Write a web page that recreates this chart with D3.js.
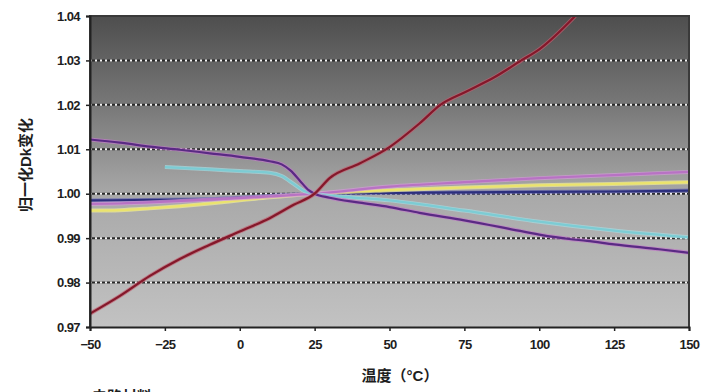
<!DOCTYPE html>
<html>
<head>
<meta charset="utf-8">
<title>Dk vs temperature</title>
<style>
  body { margin: 0; background: #fff; }
  text { font-family: "Liberation Sans", Arial, "Noto Sans CJK SC", sans-serif; }
</style>
</head>
<body>
<div id="chart"></div>
<script src="https://d3js.org/d3.v7.min.js"></script>
<script>
// temperature (°C) / normalized Dk readings
var redT   = [-50, -40, -30, -20, -10, 0, 10, 18, 25, 30, 40, 50, 60, 67, 75, 85, 94, 100, 112];
var redDk  = [0.973, 0.977, 0.9815, 0.9853, 0.9885, 0.9915, 0.9945, 0.9975, 1.000, 1.0035, 1.0068, 1.0105, 1.0158, 1.020, 1.0228, 1.0262, 1.030, 1.0325, 1.040];

var purpleT  = [-50, -40, -30, -20, -10, 0, 10, 14, 17, 20, 23, 25, 30, 40, 50, 60, 75, 90, 100, 110, 116, 125, 140, 150];
var purpleDk = [1.0122, 1.0115, 1.0106, 1.0099, 1.0091, 1.0083, 1.0073, 1.0066, 1.0052, 1.0030, 1.0008, 1.000, 0.9991, 0.9980, 0.9970, 0.9957, 0.9940, 0.9921, 0.9908, 0.9898, 0.9894, 0.9886, 0.9875, 0.9867];

var cyanT  = [-25, -10, 0, 10, 14, 18, 21, 25, 35, 50, 75, 100, 125, 150];
var cyanDk = [1.0060, 1.0055, 1.0051, 1.0047, 1.0040, 1.0022, 1.0008, 1.000, 0.9993, 0.9985, 0.9962, 0.9937, 0.9917, 0.9902];

var blueT  = [-50, -30, -10, 0, 10, 25, 50, 75, 100, 125, 150];
var blueDk = [0.9985, 0.9986, 0.9988, 0.9991, 0.9995, 1.000, 1.0002, 1.0003, 1.0004, 1.0005, 1.0007];

var pinkT  = [-50, -40, -25, 0, 10, 25, 50, 75, 100, 125, 150];
var pinkDk = [0.9977, 0.9978, 0.9982, 0.9990, 0.9994, 1.000, 1.0016, 1.0026, 1.0035, 1.0042, 1.0049];

var yellowT  = [-50, -40, -30, -20, -10, 0, 10, 25, 50, 75, 100, 125, 150];
var yellowDk = [0.9962, 0.9963, 0.9967, 0.9972, 0.9978, 0.9985, 0.9992, 1.000, 1.0008, 1.0014, 1.0019, 1.0022, 1.0026];

var xTicks = [-50, -25, 0, 25, 50, 75, 100, 125, 150];
var yTicks = [0.97, 0.98, 0.99, 1.00, 1.01, 1.02, 1.03, 1.04];

var series = [
  { t: blueT,   v: blueDk,   color: "#2c2f7e", halo: "#6a6ab0" },
  { t: yellowT, v: yellowDk, color: "#ebe46c", halo: "#f2ee9a" },
  { t: pinkT,   v: pinkDk,   color: "#b872c4", halo: "#d39ad8" },
  { t: cyanT,   v: cyanDk,   color: "#7cccd4", halo: "#a6dde2" },
  { t: purpleT, v: purpleDk, color: "#5a2a84", halo: "#c07ac8" },
  { t: redT,    v: redDk,    color: "#84182a", halo: "#c06070" }
];

var width = 723, height = 392;
var margin = { left: 90, right: 34, top: 16, bottom: 65 };

var svg = d3.select("#chart").append("svg")
    .attr("width", width).attr("height", height);

var x = d3.scaleLinear().domain([-50, 150]).range([margin.left, width - margin.right]);
var y = d3.scaleLinear().domain([0.97, 1.04]).range([height - margin.bottom, margin.top]);

// plot area gradient
var grad = svg.append("defs").append("linearGradient")
    .attr("id", "bg").attr("x1", 0).attr("y1", 0).attr("x2", 0).attr("y2", 1);
grad.append("stop").attr("offset", "0%").attr("stop-color", "#4e4e4e");
grad.append("stop").attr("offset", "30%").attr("stop-color", "#7a7a7a");
grad.append("stop").attr("offset", "58%").attr("stop-color", "#a9a9a9");
grad.append("stop").attr("offset", "100%").attr("stop-color", "#c2c2c2");

svg.append("rect")
    .attr("x", x(-50)).attr("y", y(1.04))
    .attr("width", x(150) - x(-50)).attr("height", y(0.97) - y(1.04))
    .attr("fill", "url(#bg)");

// dotted gridlines
var grid = svg.append("g");
yTicks.slice(1, -1).forEach(function(v) {
  grid.append("line")
      .attr("x1", x(-50)).attr("x2", x(150)).attr("y1", y(v)).attr("y2", y(v))
      .attr("stroke", "#2a2a2a").attr("stroke-width", 2);
  grid.append("line")
      .attr("x1", x(-50)).attr("x2", x(150)).attr("y1", y(v)).attr("y2", y(v))
      .attr("stroke", "#f4f4f4").attr("stroke-width", 2)
      .attr("stroke-dasharray", "2,3");
});

var line = d3.line()
    .x(function(d) { return x(d[0]); })
    .y(function(d) { return y(d[1]); })
    .curve(d3.curveMonotoneX);

svg.append("clipPath").attr("id", "clip").append("rect")
    .attr("x", x(-50)).attr("y", y(1.04))
    .attr("width", x(150) - x(-50)).attr("height", y(0.97) - y(1.04));

var lines = svg.append("g").attr("clip-path", "url(#clip)");
series.forEach(function(s) {
  var pts = s.t.map(function(t, i) { return [t, s.v[i]]; });
  lines.append("path").datum(pts)
      .attr("d", line).attr("fill", "none")
      .attr("stroke", s.halo).attr("stroke-width", 4).attr("stroke-opacity", 0.7);
  lines.append("path").datum(pts)
      .attr("d", line).attr("fill", "none")
      .attr("stroke", s.color).attr("stroke-width", 2.2);
});

// frame
svg.append("path")
    .attr("d", "M" + x(-50) + "," + y(0.97) + "V" + y(1.04) + "H" + x(150) + "V" + y(0.97))
    .attr("fill", "none").attr("stroke", "#3a3a3a").attr("stroke-width", 2);

var xAxis = svg.append("g")
    .attr("transform", "translate(0," + y(0.97) + ")")
    .call(d3.axisBottom(x).tickValues(xTicks).tickSize(4).tickPadding(9).tickFormat(d3.format("d")));
var yAxis = svg.append("g")
    .attr("transform", "translate(" + x(-50) + ",0)")
    .call(d3.axisLeft(y).tickValues(yTicks).tickSize(4).tickPadding(6).tickFormat(d3.format(".2f")));

[xAxis, yAxis].forEach(function(a) {
  a.select(".domain").attr("stroke", "#222").attr("stroke-width", 2);
  a.selectAll(".tick line").attr("stroke", "#222").attr("stroke-width", 1.5);
  a.selectAll(".tick text")
      .attr("fill", "#1e1e1e").style("font-size", "13px").style("font-weight", "bold")
      .style("letter-spacing", "-0.6px");
});

svg.append("text")
    .attr("transform", "translate(31,165) rotate(-90)")
    .attr("text-anchor", "middle")
    .attr("fill", "#1e1e1e").style("font-size", "15px").style("font-weight", "bold")
    .text("归一化Dk变化");

svg.append("text")
    .attr("x", 400).attr("y", 381)
    .attr("text-anchor", "middle")
    .attr("fill", "#1e1e1e").style("font-size", "15px").style("font-weight", "bold")
    .text("温度（°C）");

svg.append("text")
    .attr("x", 92).attr("y", 402)
    .attr("fill", "#1e1e1e").style("font-size", "15px").style("font-weight", "bold")
    .text("电路材料");
</script>
</body>
</html>
